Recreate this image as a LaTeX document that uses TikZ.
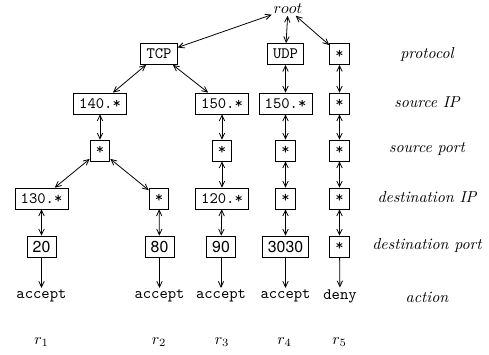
\documentclass[tikz,border=0pt]{standalone}
\usepackage{fontspec}
\newfontfamily\numfont{TeX Gyre Heros}
\usetikzlibrary{arrows.meta}
\begin{document}
\begin{tikzpicture}[x=0.63pt,y=-0.63pt,
  field/.style={draw,line width=0.5pt,inner xsep=3.6pt,inner ysep=0pt,minimum height=13.2pt,font=\ttfamily},
  numbox/.style={field,font=\numfont},
  act/.style={font=\ttfamily,inner sep=1pt},
  rowlabel/.style={font=\itshape},
  link/.style={line width=0.5pt,{Straight Barb[length=3.6pt,width=3.4pt]}-{Straight Barb[length=3.6pt,width=3.4pt]}},
  leaf/.style={line width=0.5pt,-{Straight Barb[length=3.6pt,width=3.4pt]}}]
\useasboundingbox (0,0) rectangle (489,354);

% root
\node[inner sep=1pt] (root) at (288,9) {$root$};

% protocol
\node[field] (tcp) at (159,54) {TCP};
\node[field] (udp) at (285.5,54) {UDP};
\node[field] (p5) at (339.5,54) {*};

% source IP
\node[field] (sip1) at (100,103.5) {140.*};
\node[field] (sip3) at (222,103.5) {150.*};
\node[field] (sip4) at (285.5,103.5) {150.*};
\node[field] (sip5) at (339.5,103.5) {*};

% source port
\node[field] (sp1) at (100,150.5) {*};
\node[field] (sp3) at (222,150.5) {*};
\node[field] (sp4) at (285.5,150.5) {*};
\node[field] (sp5) at (339.5,150.5) {*};

% destination IP
\node[field] (dip1) at (41.5,198.5) {130.*};
\node[field] (dip2) at (159,198.5) {*};
\node[field] (dip3) at (222,198.5) {120.*};
\node[field] (dip4) at (285.5,198.5) {*};
\node[field] (dip5) at (339.5,198.5) {*};

% destination port
\node[numbox] (dp1) at (41.5,246.5) {20};
\node[numbox] (dp2) at (159.5,246.5) {80};
\node[numbox] (dp3) at (221,246.5) {90};
\node[numbox] (dp4) at (285.5,246.5) {3030};
\node[field] (dp5) at (339.5,246.5) {*};

% actions
\node[act] (a1) at (41.5,296) {accept};
\node[act] (a2) at (159.5,296) {accept};
\node[act] (a3) at (221,296) {accept};
\node[act] (a4) at (285.5,296) {accept};
\node[act] (a5) at (340,296) {deny};

% rule names
\node (r1) at (41.5,342) {$r_1$};
\node (r2) at (159,342) {$r_2$};
\node (r3) at (222,342) {$r_3$};
\node (r4) at (284.5,342) {$r_4$};
\node (r5) at (339.5,342) {$r_5$};

% row labels
\node[rowlabel] (lp) at (427,55) {protocol};
\node[rowlabel] (lsip) at (427,102) {source IP};
\node[rowlabel] (lsp) at (427,149) {source port};
\node[rowlabel] (ldip) at (427,197.5) {destination IP};
\node[rowlabel] (ldp) at (427,245.5) {destination port};
\node[rowlabel] (la) at (427,297) {action};

% tree links
\draw[link] (root) -- (tcp);
\draw[link] (root) -- (udp);
\draw[link] (root) -- (p5);
\draw[link] (tcp) -- (sip1);
\draw[link] (tcp) -- (sip3);
\draw[link] (sip1) -- (sp1);
\draw[link] (sp1) -- (dip1);
\draw[link] (sp1) -- (dip2);
\draw[link] (dip1) -- (dp1);
\draw[link] (dip2) -- (dp2);
\draw[link] (sip3) -- (sp3);
\draw[link] (sp3) -- (dip3);
\draw[link] (dip3) -- (dp3);
\draw[link] (udp) -- (sip4);
\draw[link] (sip4) -- (sp4);
\draw[link] (sp4) -- (dip4);
\draw[link] (dip4) -- (dp4);
\draw[link] (p5) -- (sip5);
\draw[link] (sip5) -- (sp5);
\draw[link] (sp5) -- (dip5);
\draw[link] (dip5) -- (dp5);

% decisions
\draw[leaf] (dp1) -- (a1);
\draw[leaf] (dp2) -- (a2);
\draw[leaf] (dp3) -- (a3);
\draw[leaf] (dp4) -- (a4);
\draw[leaf] (dp5) -- (a5);
\end{tikzpicture}
\end{document}
